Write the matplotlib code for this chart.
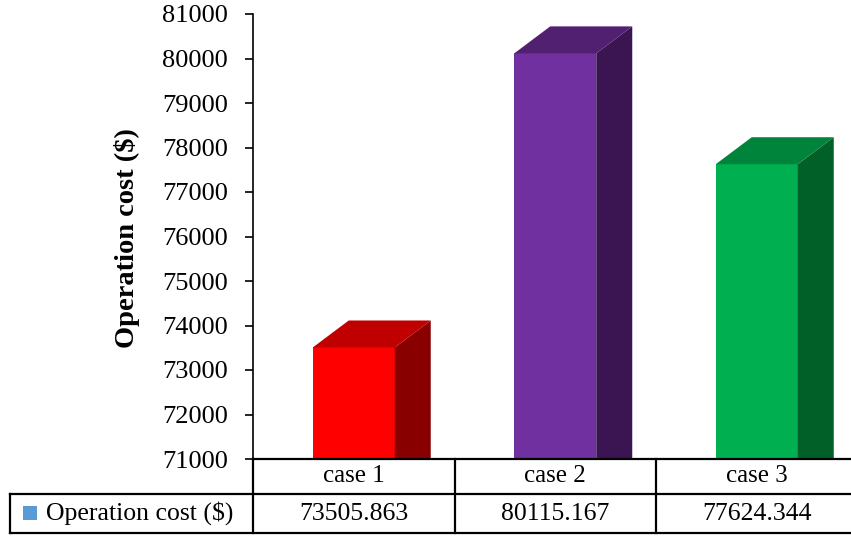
import matplotlib.pyplot as plt
from matplotlib.patches import Polygon, Rectangle
from matplotlib.lines import Line2D

# 데이터
categories = ["case 1", "case 2", "case 3"]
values = [73505.863, 80115.167, 77624.344]
series_name = "Operation cost ($)"
front_colors = ["#FF0000", "#7030A0", "#00B050"]
top_colors = ["#C00000", "#522070", "#00843C"]
side_colors = ["#880000", "#3B1552", "#006028"]

plt.rcParams['font.family'] = ['Liberation Serif', 'DejaVu Serif']

W, H = 851, 537
fig = plt.figure(figsize=(W / 100, H / 100), dpi=100)

# 픽셀 기준 배치
x0, y_top, y_bot = 253, 14, 459
col_w = 201.5
ax = fig.add_axes([x0 / W, (H - y_bot) / H, (W - x0) / W, (y_bot - y_top) / H])
ymin, ymax = 71000, 81000
ax.set_ylim(ymin, ymax)
ax.set_xlim(0, (W - x0) / col_w)
ax.set_yticks(range(ymin, ymax + 1, 1000))
ax.tick_params(axis='y', direction='out', length=6, width=1.2, labelsize=19, pad=12)
ax.set_xticks([])
for s in ['top', 'right', 'bottom']:
    ax.spines[s].set_visible(False)
ax.spines['left'].set_linewidth(1.2)

# y축 제목
fig.text(127 / W, 1 - 238 / H, "Operation cost ($)", rotation=90, ha='center', va='center',
         fontsize=20.5, fontweight='bold')

# 3D 막대
bw = 82 / col_w
dx = 36 / col_w
dy = 27 / (y_bot - y_top) * (ymax - ymin)
for i, v in enumerate(values):
    l = i + 0.5 - bw / 2
    r = l + bw
    ax.add_patch(Rectangle((l, ymin), bw, v - ymin, facecolor=front_colors[i], edgecolor='none'))
    ax.add_patch(Polygon([(r, ymin), (r + dx, ymin), (r + dx, v + dy), (r, v)],
                         facecolor=side_colors[i], edgecolor='none'))
    ax.add_patch(Polygon([(l, v), (r, v), (r + dx, v + dy), (l + dx, v + dy)],
                         facecolor=top_colors[i], edgecolor='none'))

# 데이터 테이블
def fx(px):
    return px / W

def fy(py):
    return 1 - py / H

r1, r2, r3 = 459, 494, 533
lw = 1.6
cols = [x0 + k * col_w for k in range(4)]
fig.add_artist(Line2D([fx(x0), 1], [fy(r1)] * 2, color='black', lw=lw))
fig.add_artist(Line2D([fx(10), 1], [fy(r2)] * 2, color='black', lw=lw))
fig.add_artist(Line2D([fx(10), 1], [fy(r3)] * 2, color='black', lw=lw))
fig.add_artist(Line2D([fx(10), fx(10)], [fy(r2), fy(r3)], color='black', lw=lw))
for c in cols:
    fig.add_artist(Line2D([fx(c), fx(c)], [fy(r1), fy(r3)], color='black', lw=lw))

for i, (cat, v) in enumerate(zip(categories, values)):
    cx = fx(cols[i] + col_w / 2)
    fig.text(cx, fy((r1 + r2) / 2), cat, ha='center', va='center', fontsize=18)
    fig.text(cx, fy((r2 + r3) / 2), f"{v:.3f}", ha='center', va='center', fontsize=18.5)

fig.add_artist(Rectangle((fx(23), fy(520)), 14 / W, 14 / H, facecolor='#5B9BD5',
                         edgecolor='none', transform=fig.transFigure))
fig.text(fx(46), fy((r2 + r3) / 2), series_name, ha='left', va='center', fontsize=18.5)

fig.savefig("out.png", dpi=100)
